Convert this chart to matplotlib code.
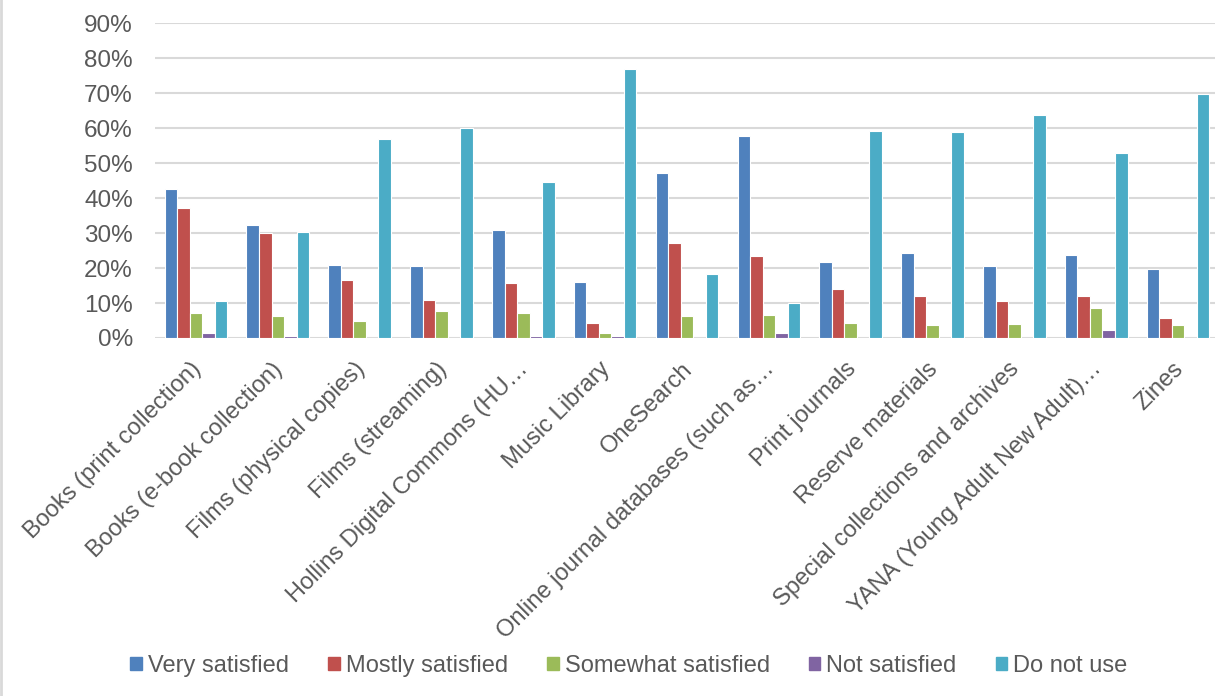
import matplotlib
matplotlib.use("Agg")
import matplotlib.pyplot as plt
import matplotlib.transforms as mtransforms
import numpy as np
from matplotlib.lines import Line2D

categories = [
    "Books (print collection)",
    "Books (e-book collection)",
    "Films (physical copies)",
    "Films (streaming)",
    "Hollins Digital Commons (HU\u2026",
    "Music Library",
    "OneSearch",
    "Online journal databases (such as\u2026",
    "Print journals",
    "Reserve materials",
    "Special collections and archives",
    "YANA (Young Adult New Adult)\u2026",
    "Zines",
]

very_satisfied = [42.5, 32.2, 21.0, 20.5, 31.0, 16.0, 47.3, 57.8, 21.7, 24.4, 20.5, 23.6, 19.8]
mostly_satisfied = [37.3, 29.9, 16.7, 10.8, 15.8, 4.2, 27.1, 23.4, 14.1, 11.9, 10.6, 12.1, 5.8]
somewhat_satisfied = [7.1, 6.2, 4.8, 7.8, 7.1, 1.5, 6.2, 6.5, 4.4, 3.8, 4.1, 8.5, 3.8]
not_satisfied = [1.5, 0.5, 0.0, 0.1, 0.5, 0.5, 0.1, 1.5, 0.0, 0.1, 0.1, 2.2, 0.0]
do_not_use = [10.7, 30.4, 56.8, 60.0, 44.7, 77.0, 18.4, 10.1, 59.1, 58.8, 63.7, 52.8, 69.9]

series_names = ["Very satisfied", "Mostly satisfied", "Somewhat satisfied", "Not satisfied", "Do not use"]
series_values = [very_satisfied, mostly_satisfied, somewhat_satisfied, not_satisfied, do_not_use]
colors = ["#4F81BD", "#C0504D", "#9BBB59", "#8064A2", "#4BACC6"]
yticks = [0, 10, 20, 30, 40, 50, 60, 70, 80, 90]

W, H = 1215, 696
fig = plt.figure(figsize=(W / 100, H / 100), dpi=100)
plt.rcParams['font.family'] = ['Liberation Sans', 'DejaVu Sans']
text_color = "#595959"

left, right = 155 / W, 1219 / W
bottom, top = (H - 338) / H, (H - 23.3) / H
ax = fig.add_axes([left, bottom, right - left, top - bottom])

x = np.arange(len(categories))
bw = 0.153
for i, (name, vals, c) in enumerate(zip(series_names, series_values, colors)):
    ax.bar(x + (i - 2) * bw, np.array(vals) / 100, width=bw, color=c,
           edgecolor="white", linewidth=0.8, label=name, zorder=3)

ax.set_xlim(-0.5, len(categories) - 0.5)
ax.set_ylim(0, 0.9)
ax.set_yticks([t / 100 for t in yticks])
ax.set_yticklabels([f"{t}%" for t in yticks])
ax.yaxis.grid(True, color="#D9D9D9", linewidth=1.5, zorder=0)
ax.set_axisbelow(True)
for s in ax.spines.values():
    s.set_visible(False)
ax.tick_params(axis="y", length=0, pad=16, labelsize=17.5, labelcolor=text_color)
ax.tick_params(axis="x", length=0, pad=0, labelsize=17, labelcolor=text_color)
ax.set_xticks(x)
ax.set_xticklabels(categories, rotation=45, ha="right", va="top", rotation_mode="anchor")
offset = mtransforms.ScaledTranslation(-6 / 100, -20 / 100, fig.dpi_scale_trans)
for lab in ax.get_xticklabels():
    lab.set_transform(lab.get_transform() + offset)

handles = [plt.Rectangle((0, 0), 1, 1, color=c) for c in colors]
leg = fig.legend(handles, series_names, loc="center", bbox_to_anchor=(629 / W, 1 - 666 / H),
                 ncol=5, frameon=False, fontsize=17, handlelength=0.5, handleheight=0.5,
                 handletextpad=0.25, columnspacing=1.65, labelcolor=text_color)

fig.add_artist(Line2D([1 / W, 1 / W], [0, 1], transform=fig.transFigure, color="#D9D9D9", linewidth=2))

fig.savefig("out.png", dpi=100)
